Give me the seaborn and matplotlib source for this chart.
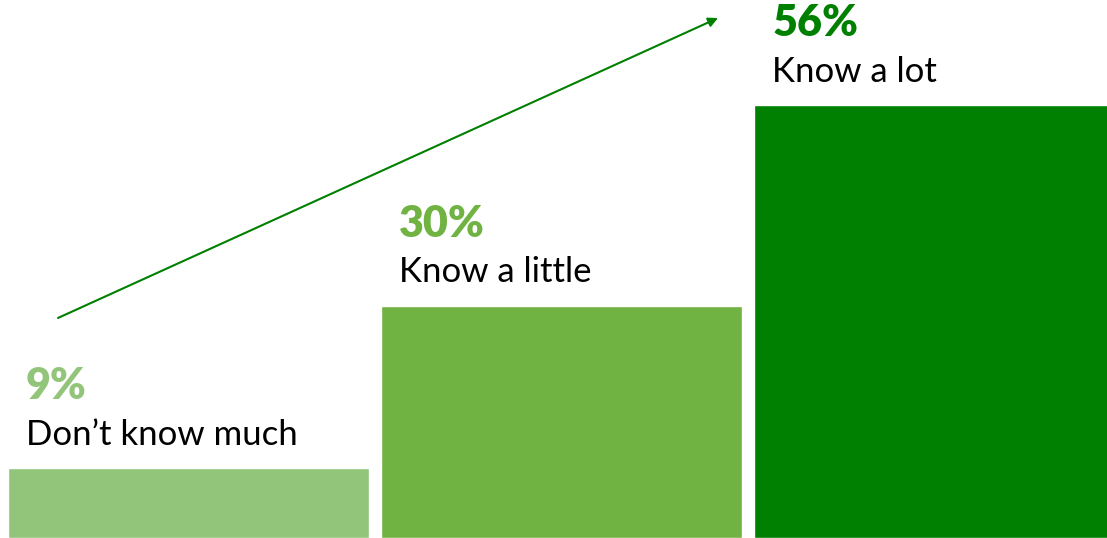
import pandas as pd
import seaborn as sns
import matplotlib.pyplot as plt

# data
categories = ["Don\u2019t know much", "Know a little", "Know a lot"]
shares = [9, 30, 56]
colors = ["#92c57a", "#70b342", "#008000"]

df = pd.DataFrame({"cat": categories, "share": shares})

sns.set_theme(style="white")
plt.rcParams['font.family'] = ['Lato', 'DejaVu Sans']

fig = plt.figure(figsize=(11.07, 5.38), dpi=100)
ax = fig.add_axes([0, 0, 1, 1])

sns.barplot(data=df, x="cat", y="share", hue="cat", palette=colors,
            saturation=1, width=0.968, legend=False, ax=ax)

ax.set_xlim(-0.505, 2.462)
ax.set_ylim(0, 69.6)
ax.axis("off")

# labels above each bar, left-aligned with the bar
for i, (c, v, col) in enumerate(zip(categories, shares, colors)):
    left = i - 0.968 / 2
    ax.annotate(c, xy=(left, v), xytext=(13, 17), textcoords="offset points",
                fontsize=25, color="black", ha="left", va="baseline")
    ax.annotate(f"{v}%", xy=(left, v), xytext=(13, 50), textcoords="offset points",
                fontsize=31, fontweight="heavy", color=col, ha="left", va="baseline")

# trend arrow
ax.annotate("", xy=(0.6486, 0.9665), xytext=(0.0524, 0.409),
            xycoords="axes fraction", textcoords="axes fraction",
            arrowprops=dict(arrowstyle="-|>", color="#008000", lw=1.5,
                            mutation_scale=14, shrinkA=0, shrinkB=0))

plt.savefig("out.png", dpi=100)
